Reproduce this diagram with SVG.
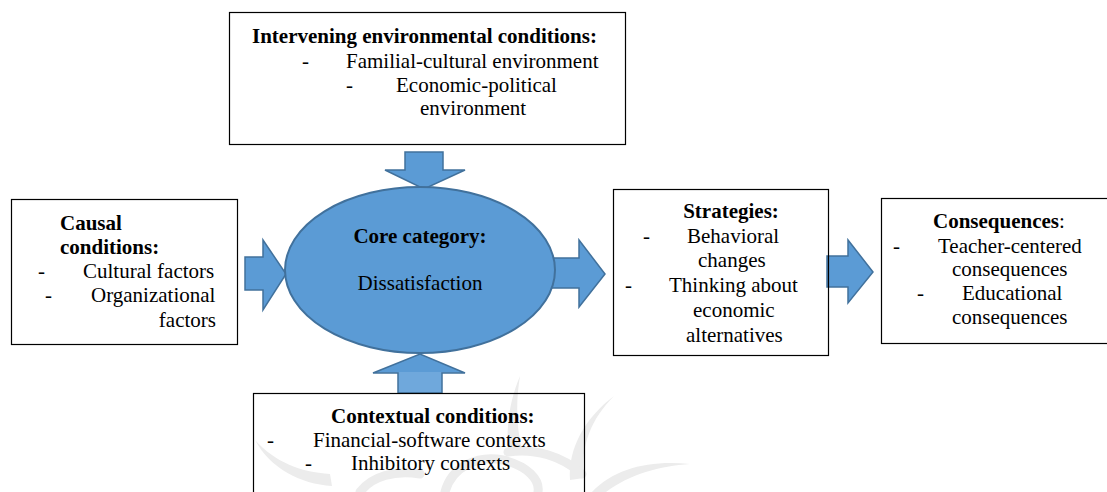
<svg xmlns="http://www.w3.org/2000/svg" width="1107" height="492" viewBox="0 0 1107 492">
  <style>
    text { font-family: "Liberation Serif", "Times New Roman", serif; font-size: 21px; fill: #000; }
    .b { font-weight: bold; }
    .mid { text-anchor: middle; }
    .end { text-anchor: end; }
    .box { fill: none; stroke: #000; stroke-width: 1.2; }
    .arrow { fill: #5B9BD5; stroke: #41719C; stroke-width: 1.5; stroke-linejoin: miter; }
    .core { fill: #5B9BD5; stroke: #41719C; stroke-width: 2; }
    .mark { fill: #ececec; stroke: none; }
    .ring { fill: none; stroke: #ececec; stroke-width: 9; stroke-linecap: round; }
  </style>
  <defs>
    <linearGradient id="upFill" gradientUnits="userSpaceOnUse" x1="0" y1="353" x2="0" y2="392">
      <stop offset="0.5" stop-color="#5B9BD5"/>
      <stop offset="0.5" stop-color="#6FA8DC"/>
    </linearGradient>
  </defs>
  <rect width="1107" height="492" fill="#fff"/>

  <!-- faint background emblem: tapered spikes and rings -->
  <g id="emblem">
    <path class="mark" d="M520,376 C516,400 516,425 522,450 L508,452 C506,425 510,400 520,376 Z"/>
    <path class="mark" d="M614,396 C592,418 580,445 584,478 L570,480 C568,448 585,418 614,396 Z"/>
    <path class="mark" d="M690,464 C660,466 630,474 606,492 L592,492 C615,468 650,460 690,464 Z"/>
    <path class="mark" d="M255,440 C275,462 300,472 330,474 L332,486 C300,484 270,468 255,440 Z"/>
    <path class="ring" d="M445,492 C452,466 478,455 503,460 C528,466 540,480 538,492"/>
    <path class="ring" d="M508,452 C535,448 562,456 582,474"/>
    <path class="ring" d="M360,492 C372,476 395,470 420,474"/>
  </g>

  <!-- connectors -->
  <g id="connectors">
    <polygon class="arrow" points="405,152 443,152 443,170 465,170 424,189 385,170 405,170"/>
    <polygon class="arrow" points="245,257 263,257 263,240 286,274 263,310 263,290 245,290"/>
    <polygon class="arrow" points="545,258 579,258 579,240 605,274 579,307 579,288 545,288"/>
    <polygon class="arrow" style="fill:url(#upFill)" points="398,393 442,393 442,373 465,373 420,354 373,373 398,373"/>
    <polygon class="arrow" points="827,256 848,256 848,240 873,272 848,303 848,287 827,287"/>
  </g>

  <g id="core">
    <ellipse class="core" cx="420" cy="270" rx="135" ry="83"/>
    <text class="b mid" x="420" y="243">Core category:</text>
    <text class="mid" x="420" y="290">Dissatisfaction</text>
  </g>

  <g id="intervening">
    <rect class="box" x="229.5" y="12.5" width="396" height="132"/>
    <text class="b" x="252" y="43">Intervening environmental conditions:</text>
    <text x="302" y="68">-</text>
    <text x="346" y="68">Familial-cultural environment</text>
    <text x="346" y="92">-</text>
    <text x="396" y="92">Economic-political</text>
    <text x="420" y="115">environment</text>
  </g>

  <g id="causal">
    <rect class="box" x="11.5" y="199.5" width="226" height="145"/>
    <text class="b" x="60" y="230">Causal</text>
    <text class="b" x="60" y="254">conditions:</text>
    <text x="38" y="278">-</text>
    <text x="83" y="278">Cultural factors</text>
    <text x="45" y="302">-</text>
    <text x="91" y="302">Organizational</text>
    <text class="end" x="216" y="327">factors</text>
  </g>

  <g id="strategies">
    <rect class="box" x="613.5" y="189.5" width="215" height="166"/>
    <text class="b mid" x="731" y="218">Strategies:</text>
    <text x="643" y="243">-</text>
    <text x="687" y="243">Behavioral</text>
    <text x="698" y="267">changes</text>
    <text x="625" y="292">-</text>
    <text x="669" y="292">Thinking about</text>
    <text x="693" y="317">economic</text>
    <text x="686" y="342">alternatives</text>
  </g>

  <g id="consequences">
    <rect class="box" x="881.5" y="198.5" width="240" height="145"/>
    <text x="933" y="228"><tspan class="b">Consequences</tspan>:</text>
    <text x="893" y="253">-</text>
    <text x="938" y="253">Teacher-centered</text>
    <text x="952" y="276">consequences</text>
    <text x="917" y="300">-</text>
    <text x="962" y="300">Educational</text>
    <text x="952" y="324">consequences</text>
  </g>

  <g id="contextual">
    <rect class="box" x="253.5" y="393.5" width="331" height="120"/>
    <text class="b" x="331" y="423">Contextual conditions:</text>
    <text x="267" y="447">-</text>
    <text x="313" y="447">Financial-software contexts</text>
    <text x="305" y="470">-</text>
    <text x="351" y="470">Inhibitory contexts</text>
  </g>
</svg>
